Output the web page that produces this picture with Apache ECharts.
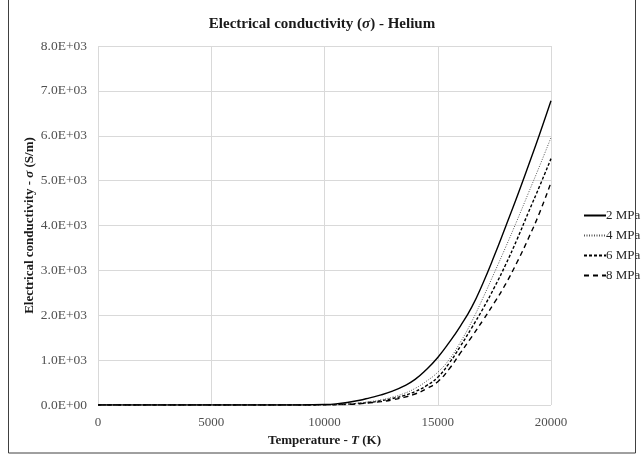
<!DOCTYPE html>
<html>
<head>
<meta charset="utf-8">
<script src="https://cdn.jsdelivr.net/npm/echarts@6/dist/echarts.min.js"></script>
<style>
  html, body { margin: 0; padding: 0; background: #fff; }
  #chart { width: 644px; height: 459px; }
</style>
</head>
<body>
<div id="chart"></div>
<script>
// Temperature grid (K)
var temperature = [0, 1000, 2000, 3000, 4000, 5000, 6000, 7000, 8000, 9000, 10000,
  10500, 11000, 11500, 12000, 12500, 13000, 13500, 14000, 14500, 15000,
  15500, 16000, 16500, 17000, 17500, 18000, 18500, 19000, 19500, 20000];

// Electrical conductivity (S/m) of helium at each pressure
var sigma2MPa = [0, 0, 0, 0, 0, 0, 0, 0, 0, 1, 10,
  25, 55, 100, 160, 225, 310, 420, 570, 790, 1060,
  1390, 1760, 2180, 2720, 3330, 3980, 4640, 5330, 6040, 6780];
var sigma4MPa = [0, 0, 0, 0, 0, 0, 0, 0, 0, 1, 5,
  12, 25, 45, 75, 115, 175, 255, 370, 530, 730,
  1010, 1400, 1860, 2390, 2950, 3520, 4110, 4720, 5330, 5960];
var sigma6MPa = [0, 0, 0, 0, 0, 0, 0, 0, 0, 0, 4,
  9, 18, 35, 60, 95, 145, 210, 300, 430, 620,
  930, 1310, 1720, 2150, 2620, 3130, 3690, 4290, 4880, 5490];
var sigma8MPa = [0, 0, 0, 0, 0, 0, 0, 0, 0, 0, 3,
  7, 14, 28, 48, 76, 115, 170, 245, 360, 520,
  800, 1160, 1520, 1890, 2280, 2700, 3180, 3710, 4290, 4960];

var seriesNames = ['2 MPa', '4 MPa', '6 MPa', '8 MPa'];

function pairs(xs, ys) {
  return xs.map(function (x, i) { return [x, ys[i]]; });
}

// Scientific notation with a two-digit exponent, e.g. 8.0E+03
function sci(v) {
  if (v === 0) return '0.0E+00';
  var e = Math.floor(Math.log10(Math.abs(v)));
  var m = v / Math.pow(10, e);
  var es = (e < 0 ? '-' : '+') + (Math.abs(e) < 10 ? '0' : '') + Math.abs(e);
  return m.toFixed(1) + 'E' + es;
}

var serif = 'Liberation Serif';
var tickColor = '#505050';
var chart = echarts.init(document.getElementById('chart'), null, { renderer: 'canvas' });

chart.setOption({
  backgroundColor: '#ffffff',
  animation: false,
  textStyle: { fontFamily: serif },
  title: {
    text: 'Electrical conductivity ({i|σ}) - Helium',
    left: 'center',
    top: 12,
    textStyle: {
      fontFamily: serif, fontSize: 15, fontWeight: 'bold', color: '#1a1a1a',
      rich: { i: { fontFamily: serif, fontSize: 15, fontWeight: 'bold', fontStyle: 'italic', color: '#1a1a1a' } }
    }
  },
  grid: { left: 98, right: 93, top: 46, bottom: 54, containLabel: false },
  legend: {
    orient: 'vertical',
    left: 578,
    top: 204,
    itemWidth: 22,
    itemHeight: 12,
    itemGap: 7,
    data: seriesNames,
    itemStyle: { opacity: 0 },
    textStyle: { fontFamily: serif, fontSize: 13, color: '#262626', padding: [0, 0, 0, -5] }
  },
  xAxis: {
    type: 'value',
    min: 0, max: 20000, interval: 5000,
    name: 'Temperature - {i|T} (K)',
    nameLocation: 'middle',
    nameGap: 29,
    nameMoveOverlap: false,
    nameTextStyle: {
      fontFamily: serif, fontSize: 13, fontWeight: 'bold', color: '#1a1a1a',
      rich: { i: { fontFamily: serif, fontSize: 13, fontWeight: 'bold', fontStyle: 'italic', color: '#1a1a1a' } }
    },
    axisLine: { show: false },
    axisTick: { show: false },
    axisLabel: {
      fontFamily: serif, fontSize: 13, color: tickColor, margin: 11,
      formatter: function (v) { return String(v); }
    },
    splitLine: { show: true, lineStyle: { color: '#d9d9d9', width: 1 } }
  },
  yAxis: {
    type: 'value',
    min: 0, max: 8000, interval: 1000,
    name: 'Electrical conductivity - {i|σ} (S/m)',
    nameLocation: 'middle',
    nameGap: 62,
    nameMoveOverlap: false,
    nameTextStyle: {
      fontFamily: serif, fontSize: 13, fontWeight: 'bold', color: '#1a1a1a',
      rich: { i: { fontFamily: serif, fontSize: 13, fontWeight: 'bold', fontStyle: 'italic', color: '#1a1a1a' } }
    },
    axisLine: { show: false },
    axisTick: { show: false },
    axisLabel: { fontFamily: serif, fontSize: 13.5, color: tickColor, margin: 11, formatter: sci },
    splitLine: { show: true, lineStyle: { color: '#d9d9d9', width: 1 } }
  },
  series: [
    {
      name: seriesNames[0], type: 'line', smooth: true, showSymbol: false, symbol: 'none',
      data: pairs(temperature, sigma2MPa),
      lineStyle: { color: '#000000', width: 1.4, type: 'solid' },
      itemStyle: { color: '#000000' }, z: 5
    },
    {
      name: seriesNames[1], type: 'line', smooth: true, showSymbol: false, symbol: 'none',
      data: pairs(temperature, sigma4MPa),
      lineStyle: { color: '#555555', width: 1, type: [1, 1.5] },
      itemStyle: { color: '#555555' }, z: 4
    },
    {
      name: seriesNames[2], type: 'line', smooth: true, showSymbol: false, symbol: 'none',
      data: pairs(temperature, sigma6MPa),
      lineStyle: { color: '#000000', width: 1.4, type: [3, 2] },
      itemStyle: { color: '#000000' }, z: 3
    },
    {
      name: seriesNames[3], type: 'line', smooth: true, showSymbol: false, symbol: 'none',
      data: pairs(temperature, sigma8MPa),
      lineStyle: { color: '#000000', width: 1.4, type: [5, 4] },
      itemStyle: { color: '#000000' }, z: 2
    }
  ],
  graphic: [
    {
      type: 'rect', silent: true, z: 100,
      shape: { x: 8.5, y: -5, width: 627, height: 458 },
      style: { fill: 'none', stroke: '#404040', lineWidth: 1 }
    }
  ]
});
</script>
</body>
</html>
